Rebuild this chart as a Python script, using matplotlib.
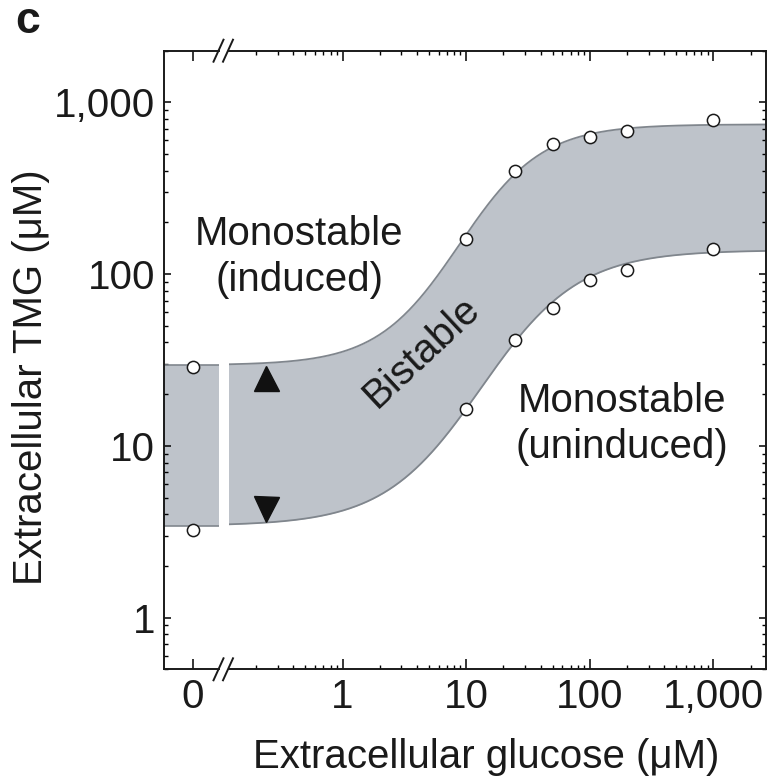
import numpy as np
import matplotlib
matplotlib.use("Agg")
import matplotlib.pyplot as plt
from matplotlib.lines import Line2D
from matplotlib.ticker import FixedLocator, FuncFormatter, LogLocator, NullFormatter, NullLocator

plt.rcParams['font.family'] = ['Liberation Sans', 'DejaVu Sans']

# Measured switching thresholds (glucose in uM, TMG in uM)
glucose = [10, 25, 50, 100, 200, 1000]
tmg_upper = [161, 400, 572, 631, 677, 789]
tmg_lower = [16.5, 41.4, 63.2, 93, 105, 140]
# thresholds without glucose
glucose_zero = [0, 0]
tmg_zero = [28.7, 3.25]

# Hill-type boundaries of the bistable region (low, high, K, n), log-space
upper_edge = (29.5, 745.0, 8.8, 1.3)
lower_edge = (3.42, 138.0, 13.2, 1.1)

x_ticks = [1, 10, 100, 1000]
y_lim = (0.5, 2000)


def boundary(x, low, high, k, n):
    x = np.asarray(x, dtype=float)
    s = x ** n / (k ** n + x ** n)
    return 10 ** (np.log10(low) + (np.log10(high) - np.log10(low)) * s)


W, H = 771, 783
FS = 29
INK = '#1a1a1a'
BAND = '#bec3ca'
EDGE = '#80868d'


def frame(x0, x1, top=50.7, bottom=669.3):
    return [x0 / W, 1 - bottom / H, (x1 - x0) / W, (bottom - top) / H]


comma = FuncFormatter(lambda v, pos: f"{v:,.0f}")

fig = plt.figure(figsize=(W / 100, H / 100), dpi=100)
ax0 = fig.add_axes(frame(164.3, 219))   # glucose = 0 panel
ax = fig.add_axes(frame(228.5, 766))    # log glucose panel

# --- zero-glucose strip ---
x0_lim = (-1, 0.926)
ax0.set_yscale('log')
ax0.set_xlim(*x0_lim)
ax0.set_ylim(*y_lim)
hi0 = boundary([0, 0], *upper_edge)
lo0 = boundary([0, 0], *lower_edge)
ax0.fill_between(x0_lim, lo0, hi0, color=BAND, lw=0, zorder=1)
ax0.plot(x0_lim, hi0, color=EDGE, lw=1.2, zorder=2)
ax0.plot(x0_lim, lo0, color=EDGE, lw=1.2, zorder=2)
ax0.plot(glucose_zero, tmg_zero, 'o', ms=8.8, mfc='white', mec=INK, mew=1.1,
         zorder=4, clip_on=False)

ax0.spines['right'].set_visible(False)
ax0.xaxis.set_major_locator(FixedLocator([0]))
ax0.xaxis.set_minor_locator(NullLocator())
ax0.yaxis.set_major_locator(LogLocator(base=10))
ax0.yaxis.set_minor_locator(LogLocator(base=10, subs=np.arange(2, 10)))
ax0.yaxis.set_major_formatter(comma)
ax0.yaxis.set_minor_formatter(NullFormatter())
ax0.tick_params(axis='x', which='major', direction='in', top=True, length=7,
                width=1.1, pad=6.5, labelsize=FS, labelcolor=INK)
ax0.tick_params(axis='y', which='major', direction='in', right=False, length=5,
                width=1.1, pad=6.5, labelsize=FS, labelcolor=INK)
ax0.tick_params(axis='y', which='minor', direction='in', right=False, length=3,
                width=1.0)

# --- log glucose panel ---
ax.set_xscale('log')
ax.set_yscale('log')
ax.set_xlim(0.1196, 2667)
ax.set_ylim(*y_lim)

xs = np.logspace(np.log10(0.1196), np.log10(2667), 400)
hi = boundary(xs, *upper_edge)
lo = boundary(xs, *lower_edge)
ax.fill_between(xs, lo, hi, color=BAND, lw=0, zorder=1)
ax.plot(xs, hi, color=EDGE, lw=1.3, zorder=2)
ax.plot(xs, lo, color=EDGE, lw=1.3, zorder=2)
ax.plot(glucose, tmg_upper, 'o', ms=8.8, mfc='white', mec=INK, mew=1.1, zorder=4)
ax.plot(glucose, tmg_lower, 'o', ms=8.8, mfc='white', mec=INK, mew=1.1, zorder=4)

# hysteresis arrows
ax.plot(0.239, 24.8, marker='^', ms=18, color='#111111', ls='none', zorder=3)
ax.plot(0.239, 4.31, marker='v', ms=18, color='#111111', ls='none', zorder=3)

ax.spines['left'].set_visible(False)
ax.xaxis.set_major_locator(FixedLocator(x_ticks))
ax.xaxis.set_minor_locator(LogLocator(base=10, subs=np.arange(2, 10)))
ax.xaxis.set_major_formatter(comma)
ax.xaxis.set_minor_formatter(NullFormatter())
ax.yaxis.set_major_locator(LogLocator(base=10))
ax.yaxis.set_minor_locator(LogLocator(base=10, subs=np.arange(2, 10)))
ax.tick_params(axis='x', which='major', direction='in', top=True, length=7,
               width=1.1, pad=6.5, labelsize=FS, labelcolor=INK)
ax.tick_params(axis='x', which='minor', direction='in', top=True, length=3,
               width=1.0)
ax.tick_params(axis='y', which='major', direction='in', left=False, right=True,
               labelleft=False, length=5, width=1.1)
ax.tick_params(axis='y', which='minor', direction='in', left=False, right=True,
               labelleft=False, length=3, width=1.0)

for a in (ax0, ax):
    for sp in a.spines.values():
        sp.set_linewidth(1.4)
        sp.set_color(INK)

# region labels
ax.text(0.445, 126, 'Monostable\n(induced)', ha='center', va='center',
        fontsize=FS, color=INK, linespacing=1.25)
ax.text(182.5, 13.4, 'Monostable\n(uninduced)', ha='center', va='center',
        fontsize=FS, color=INK, linespacing=1.25)
ax.text(4.4, 35, 'Bistable', ha='center', va='center', rotation=43,
        rotation_mode='anchor', fontsize=FS, color=INK)

# axis break marks
for cx in (218.5, 228.0):
    for cy in (669.3, 50.7):
        fig.add_artist(Line2D([(cx - 5) / W, (cx + 5) / W],
                              [1 - (cy + 11) / H, 1 - (cy - 11) / H],
                              transform=fig.transFigure, color=INK, lw=1.4))

fig.text(486 / W, 1 - 768.3 / H, 'Extracellular glucose (μM)', ha='center',
         va='baseline', fontsize=FS, color=INK)
fig.text(41.7 / W, 1 - 377 / H, 'Extracellular TMG (μM)', rotation=90,
         rotation_mode='anchor', ha='center', va='baseline', fontsize=FS,
         color=INK)
fig.text(15 / W, 1 - 33 / H, 'c', fontsize=32, fontweight='bold', color=INK,
         va='baseline')

fig.savefig('out.png', dpi=100)
